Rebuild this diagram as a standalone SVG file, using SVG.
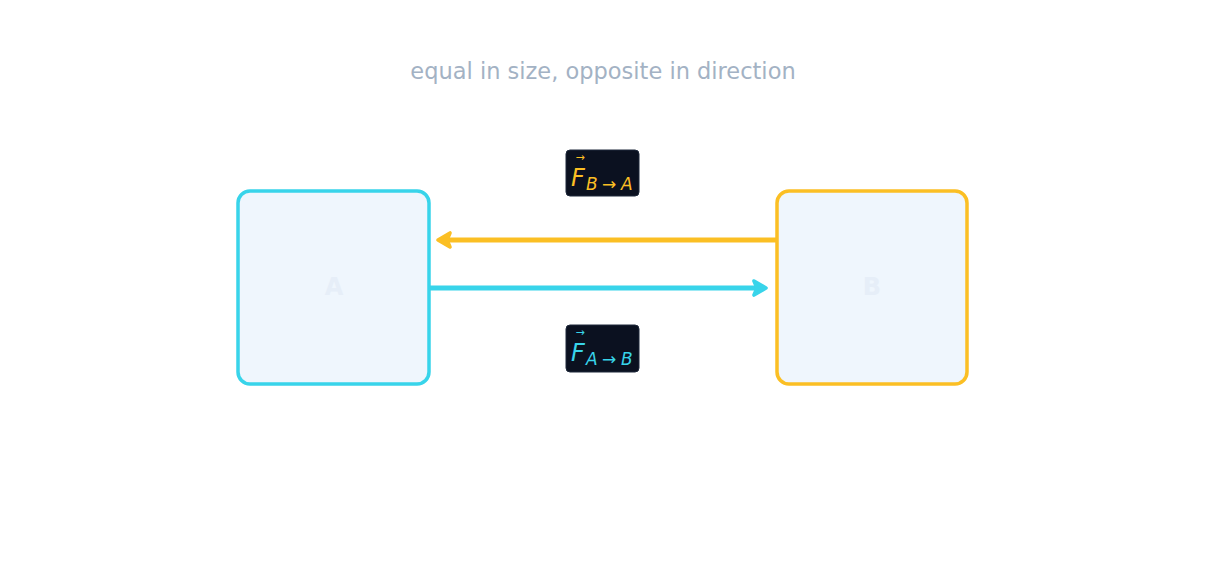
<svg xmlns="http://www.w3.org/2000/svg" width="1206" height="576" viewBox="0 0 1206 576">
<defs>
<style>
.t{font-family:"DejaVu Sans",sans-serif}
.node{fill:#eff6fd;stroke-width:3.5}
.lbl{fill:#0b1120;stroke:#1e293b;stroke-width:1}
</style>
<marker id="ay" viewBox="0 0 10 10" refX="7" refY="5" markerWidth="4" markerHeight="4" orient="auto"><path d="M2,1.5 L8,5 L2,8.5 L3.5,5 Z" fill="#fbbf24" stroke="#fbbf24" stroke-width="1.8" stroke-linejoin="round"/></marker>
<marker id="ac" viewBox="0 0 10 10" refX="7" refY="5" markerWidth="4" markerHeight="4" orient="auto"><path d="M2,1.5 L8,5 L2,8.5 L3.5,5 Z" fill="#38d4ea" stroke="#38d4ea" stroke-width="1.8" stroke-linejoin="round"/></marker>
</defs>
<rect width="1206" height="576" fill="#fff"/>
<text class="t" x="603" y="79" text-anchor="middle" font-size="22.5" fill="#a3b2c4">equal in size, opposite in direction</text>
<g id="connectors">
<line x1="776" y1="240" x2="440" y2="240" stroke="#fbbf24" stroke-width="5" marker-end="url(#ay)"/>
<line x1="430" y1="288" x2="764" y2="288" stroke="#38d4ea" stroke-width="5" marker-end="url(#ac)"/>
</g>
<g id="A"><rect class="node" x="238" y="191" width="191" height="193" rx="12" stroke="#38d4ea"/>
<text class="t" x="334" y="295" text-anchor="middle" font-size="24" font-weight="bold" fill="#e6eef8">A</text></g>
<g id="B"><rect class="node" x="777" y="191" width="190" height="193" rx="12" stroke="#fbbf24"/>
<text class="t" x="872" y="295" text-anchor="middle" font-size="24" font-weight="bold" fill="#e6eef8">B</text></g>
<g id="labelBA"><rect class="lbl" x="566" y="150" width="73" height="46" rx="4"/>
<text class="t" fill="#fbbf24" font-style="italic"><tspan x="571" y="186" font-size="24">F</tspan><tspan x="586" y="190" font-size="17">B</tspan><tspan x="602" y="190" font-size="17" font-style="normal">→</tspan><tspan x="621" y="190" font-size="17">A</tspan></text>
<text class="t" x="580" y="161" text-anchor="middle" font-size="11" fill="#fbbf24">→</text></g>
<g id="labelAB"><rect class="lbl" x="566" y="325" width="73" height="47" rx="4"/>
<text class="t" fill="#38d4ea" font-style="italic"><tspan x="571" y="361" font-size="24">F</tspan><tspan x="586" y="365" font-size="17">A</tspan><tspan x="602" y="365" font-size="17" font-style="normal">→</tspan><tspan x="621" y="365" font-size="17">B</tspan></text>
<text class="t" x="580" y="336" text-anchor="middle" font-size="11" fill="#38d4ea">→</text></g>
</svg>
